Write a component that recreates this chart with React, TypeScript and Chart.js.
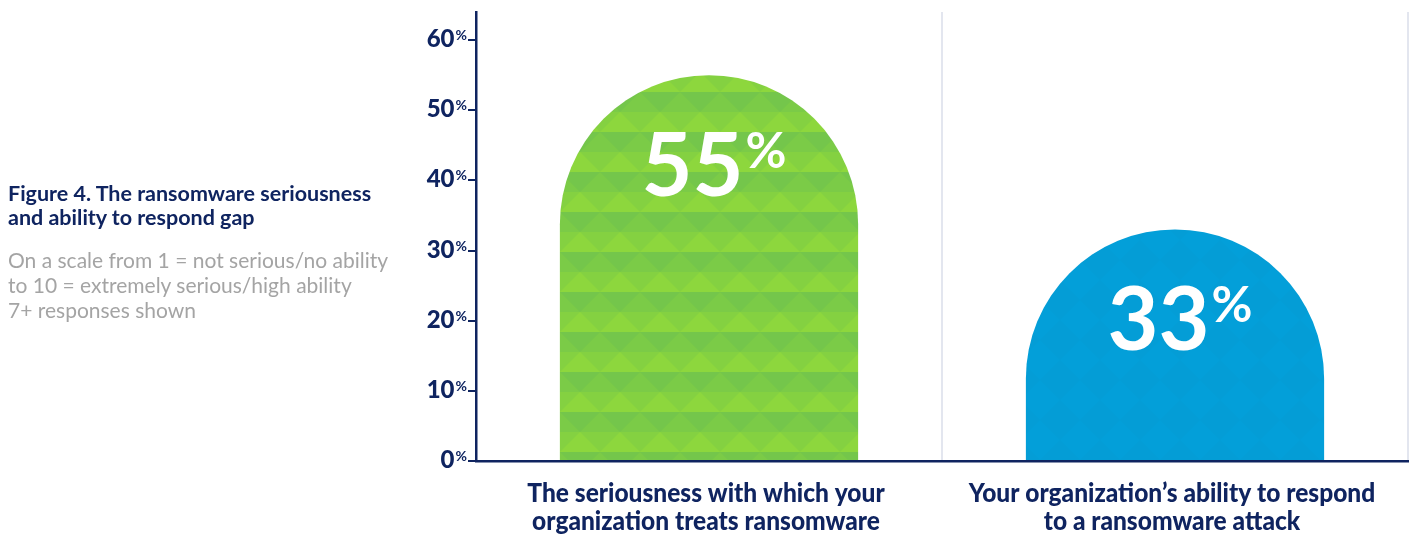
import React, { useEffect, useRef } from "react";
import { Chart, registerables } from "chart.js";

Chart.register(...registerables);

const categories: string[][] = [
  ["The seriousness with which your", "organization treats ransomware"],
  ["Your organization\u2019s ability to respond", "to a ransomware attack"],
];
const values: number[] = [55, 33];
const yTicks: number[] = [0, 10, 20, 30, 40, 50, 60];

const NAVY = "#0f2460";

function makeGreenPattern(): CanvasPattern | string {
  const c = document.createElement("canvas");
  c.width = 40;
  c.height = 40;
  const g = c.getContext("2d");
  if (!g) return "#7fcf42";
  g.fillStyle = "#7bcb47";
  g.fillRect(0, 0, 40, 20);
  g.fillStyle = "#84d141";
  g.fillRect(0, 20, 40, 20);
  g.fillStyle = "#74c64b";
  g.beginPath();
  g.moveTo(0, 0);
  g.lineTo(40, 0);
  g.lineTo(20, 20);
  g.closePath();
  g.fill();
  g.fillStyle = "#8dd73d";
  g.beginPath();
  g.moveTo(20, 20);
  g.lineTo(40, 40);
  g.lineTo(0, 40);
  g.closePath();
  g.fill();
  const p = g.createPattern(c, "repeat");
  if (!p) return "#7fcf42";
  try {
    p.setTransform(new DOMMatrix().translate(0, 12));
  } catch (e) {}
  return p;
}

function makeBluePattern(): CanvasPattern | string {
  const c = document.createElement("canvas");
  c.width = 40;
  c.height = 40;
  const g = c.getContext("2d");
  if (!g) return "#029ed8";
  g.fillStyle = "#039fd9";
  g.fillRect(0, 0, 40, 40);
  g.fillStyle = "#0899d2";
  g.globalAlpha = 0.3;
  g.beginPath();
  g.moveTo(20, 0);
  g.lineTo(40, 20);
  g.lineTo(20, 40);
  g.lineTo(0, 20);
  g.closePath();
  g.fill();
  const p = g.createPattern(c, "repeat");
  return p || "#029ed8";
}

const domeBarsPlugin = {
  id: "domeBars",
  beforeDatasetDraw(chart: any, args: any) {
    const meta = args.meta;
    const ctx = chart.ctx;
    const fills = chart.data.datasets[args.index].backgroundColor;
    ctx.save();
    meta.data.forEach((bar: any, i: number) => {
      const p = bar.getProps(["x", "y", "base", "width"], true);
      const w = p.width;
      const left = p.x - w / 2;
      const right = p.x + w / 2;
      const r = Math.min(w / 2, Math.abs(p.base - p.y));
      ctx.beginPath();
      ctx.moveTo(left, p.base);
      ctx.lineTo(left, p.y + r);
      ctx.arc(p.x, p.y + r, r, Math.PI, 0, false);
      ctx.lineTo(right, p.base);
      ctx.closePath();
      ctx.fillStyle = Array.isArray(fills) ? fills[i] : fills;
      ctx.fill();
    });
    ctx.restore();
    return false;
  },
};

const overlayPlugin = {
  id: "overlayText",
  afterDraw(chart: any) {
    const ctx = chart.ctx;
    const yScale = chart.scales.y;
    const xScale = chart.scales.x;
    ctx.save();
    // y tick labels with superscript %
    ctx.fillStyle = NAVY;
    ctx.textBaseline = "alphabetic";
    yTicks.forEach((v) => {
      const y = yScale.getPixelForValue(v);
      const right = chart.chartArea.left - 9;
      ctx.font = "bold 14px Lato";
      const pw = ctx.measureText("%").width;
      ctx.textAlign = "right";
      ctx.fillText("%", right, y);
      ctx.font = "900 24px Lato";
      ctx.fillText(String(v), right - pw - 1, y + 7);
    });
    // bar value labels
    const meta = chart.getDatasetMeta(0);
    meta.data.forEach((bar: any, i: number) => {
      const num = String(values[i]);
      ctx.fillStyle = "#ffffff";
      ctx.textAlign = "left";
      ctx.font = "bold 88px Lato";
      const nw = ctx.measureText(num).width;
      ctx.font = "bold 50px Lato";
      const pw = ctx.measureText("%").width;
      const total = nw + pw + 2;
      const left = bar.x - total / 2 + 5;
      ctx.font = "bold 88px Lato";
      ctx.fillText(num, left, bar.y + 121);
      ctx.font = "bold 50px Lato";
      ctx.fillText("%", left + nw + 2, bar.y + 93);
    });
    // category labels (slightly condensed)
    ctx.fillStyle = NAVY;
    ctx.textAlign = "center";
    ctx.font = "900 26.5px Lato";
    const base = chart.chartArea.bottom;
    const sx = 0.925;
    categories.forEach((lines, i) => {
      const x = xScale.getPixelForValue(i);
      lines.forEach((ln, j) => {
        ctx.save();
        ctx.translate(x - 3, base + 41 + j * 28);
        ctx.scale(sx, 1);
        ctx.fillText(ln, 0, 0);
        ctx.restore();
      });
    });
    ctx.restore();
  },
};

export default function App() {
  const ref = useRef<HTMLCanvasElement | null>(null);
  useEffect(() => {
    document.body.style.margin = "0";
    if (!ref.current) return;
    const chart = new Chart(ref.current, {
      type: "bar",
      data: {
        labels: categories,
        datasets: [
          {
            data: values,
            backgroundColor: [makeGreenPattern(), makeBluePattern()],
            borderWidth: 0,
            barPercentage: 0.64,
            categoryPercentage: 1,
          },
        ],
      },
      plugins: [domeBarsPlugin, overlayPlugin],
      options: {
        responsive: false,
        animation: false,
        layout: { padding: { left: 0, right: 8, top: 12, bottom: 0 } },
        plugins: {
          legend: { display: false },
          tooltip: { enabled: false },
          title: { display: false },
        },
        scales: {
          x: {
            type: "category",
            offset: true,
            afterFit: (s: any) => {
              s.height = 74;
            },
            grid: {
              display: true,
              offset: true,
              drawTicks: false,
              drawOnChartArea: true,
              color: "#e3e6ef",
              lineWidth: 2,
            },
            border: { display: true, color: NAVY, width: 2.5 },
            ticks: { display: false },
          },
          y: {
            min: 0,
            max: 64,
            afterFit: (s: any) => {
              s.width = 476;
            },
            afterBuildTicks: (s: any) => {
              s.ticks = yTicks.map((v) => ({ value: v }));
            },
            grid: {
              display: true,
              drawOnChartArea: false,
              drawTicks: true,
              tickLength: 8,
              color: NAVY,
              lineWidth: 2,
            },
            border: { display: true, color: NAVY, width: 2.5 },
            ticks: { display: false },
          },
        },
      },
    });
    return () => chart.destroy();
  }, []);

  return (
    <div style={{ position: "relative", width: 1416, height: 535, background: "#ffffff" }}>
      <canvas ref={ref} width={1416} height={535} style={{ position: "absolute", left: 0, top: 0 }} />
      <div
        style={{
          position: "absolute",
          left: 8,
          top: 181,
          fontFamily: "Lato",
          fontWeight: 700,
          fontSize: 21.5,
          lineHeight: "24px",
          color: NAVY,
          whiteSpace: "nowrap",
        }}
      >
        Figure 4. The ransomware seriousness
        <br />
        and ability to respond gap
      </div>
      <div
        style={{
          position: "absolute",
          left: 8,
          top: 247,
          fontFamily: "Lato",
          fontWeight: 400,
          fontSize: 21,
          lineHeight: "25px",
          color: "#a4a4a4",
          whiteSpace: "nowrap",
        }}
      >
        On a scale from 1 = not serious/no ability
        <br />
        to 10 = extremely serious/high ability
        <br />
        7+ responses shown
      </div>
    </div>
  );
}
